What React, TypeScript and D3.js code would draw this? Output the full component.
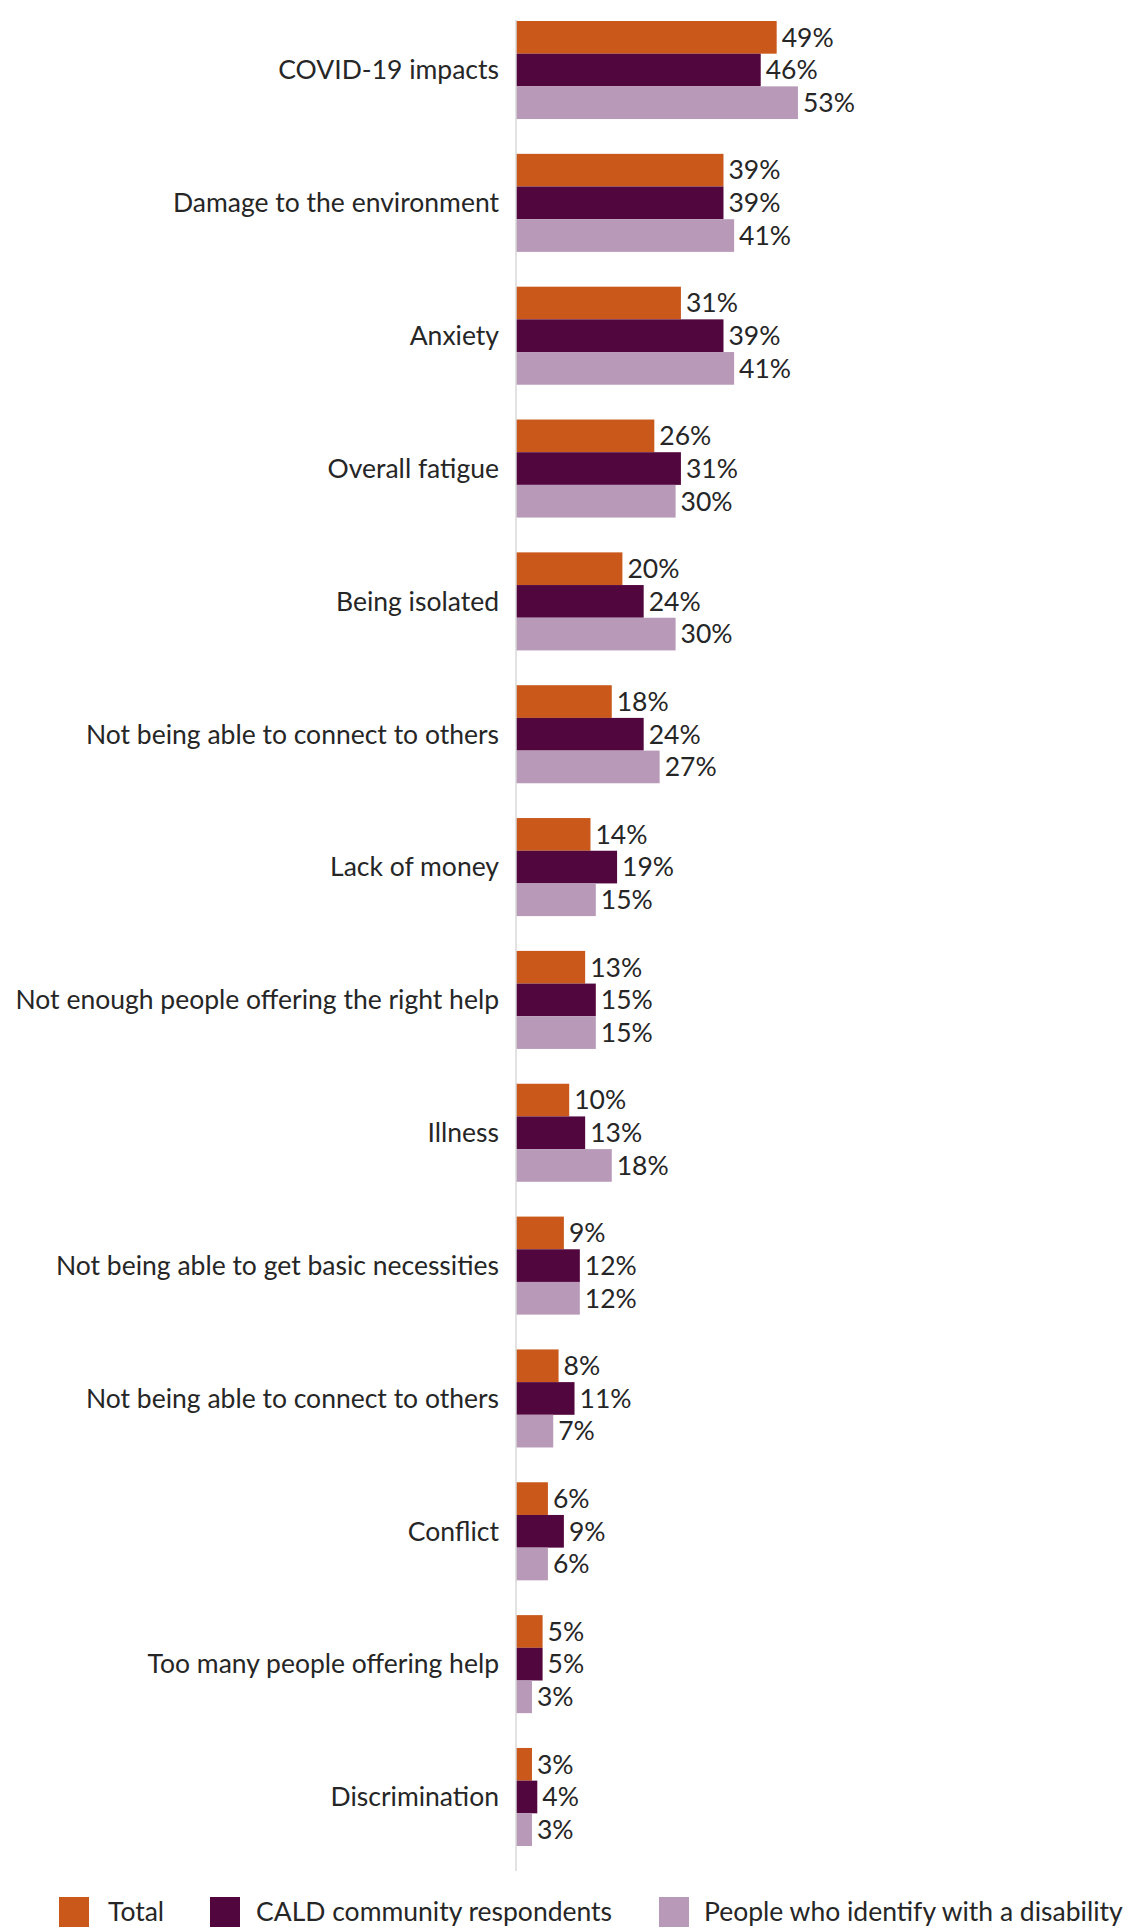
import React from "react";
import * as d3 from "d3";

const categories = [
  "COVID-19 impacts",
  "Damage to the environment",
  "Anxiety",
  "Overall fatigue",
  "Being isolated",
  "Not being able to connect to others",
  "Lack of money",
  "Not enough people offering the right help",
  "Illness",
  "Not being able to get basic necessities",
  "Not being able to connect to others",
  "Conflict",
  "Too many people offering help",
  "Discrimination",
];
const seriesNames = ["Total", "CALD community respondents", "People who identify with a disability"];
const totalValues = [49, 39, 31, 26, 20, 18, 14, 13, 10, 9, 8, 6, 5, 3];
const caldValues = [46, 39, 39, 31, 24, 24, 19, 15, 13, 12, 11, 9, 5, 4];
const disabilityValues = [53, 41, 41, 30, 30, 27, 15, 15, 18, 12, 7, 6, 3, 3];
const colors = ["#C9581A", "#52063E", "#B89AB8"];

const W = 1131;
const H = 1928;
const FONT = "Lato, 'Open Sans', sans-serif";
const FS = 26.5;

export default function App() {
  const seriesValues = [totalValues, caldValues, disabilityValues];
  const idx = categories.map((_, i) => String(i));
  const axisX = 516;
  const x = d3.scaleLinear().domain([0, 100]).range([axisX, axisX + 532]);
  const y = d3.scaleBand().domain(idx).range([21, 1846]).paddingInner(0.262).paddingOuter(0);
  const sub = d3.scaleBand().domain(["0", "1", "2"]).range([0, y.bandwidth()]).padding(0);

  const legendItems = [
    { sq: 59, tx: 108 },
    { sq: 210, tx: 256 },
    { sq: 659, tx: 704 },
  ];

  return (
    <svg width={W} height={H} style={{ position: "absolute", left: 0, top: 0, display: "block" }} fontFamily={FONT}>
      <rect width={W} height={H} fill="#fff" />
      {categories.map((c, i) => {
        const y0 = y(String(i))!;
        return (
          <g key={i}>
            <text x={499} y={y0 + y.bandwidth() / 2} dy="0.35em" textAnchor="end" fontSize={FS} fill="#262626">
              {c}
            </text>
            {seriesValues.map((vals, s) => {
              const by = y0 + sub(String(s))!;
              const v = vals[i];
              return (
                <g key={s}>
                  <rect x={x(0)} y={by} width={x(v) - x(0)} height={sub.bandwidth()} fill={colors[s]} />
                  <text x={x(v) + 5} y={by + sub.bandwidth() / 2} dy="0.35em" fontSize={FS} fill="#262626">
                    {v}%
                  </text>
                </g>
              );
            })}
          </g>
        );
      })}
      <line x1={axisX} x2={axisX} y1={20} y2={1871} stroke="#D9D9D9" strokeWidth={1.5} />
      {seriesNames.map((n, s) => (
        <g key={n}>
          <rect x={legendItems[s].sq} y={1897} width={30} height={30} fill={colors[s]} />
          <text x={legendItems[s].tx} y={1912} dy="0.35em" fontSize={FS} fill="#262626">
            {n}
          </text>
        </g>
      ))}
    </svg>
  );
}
